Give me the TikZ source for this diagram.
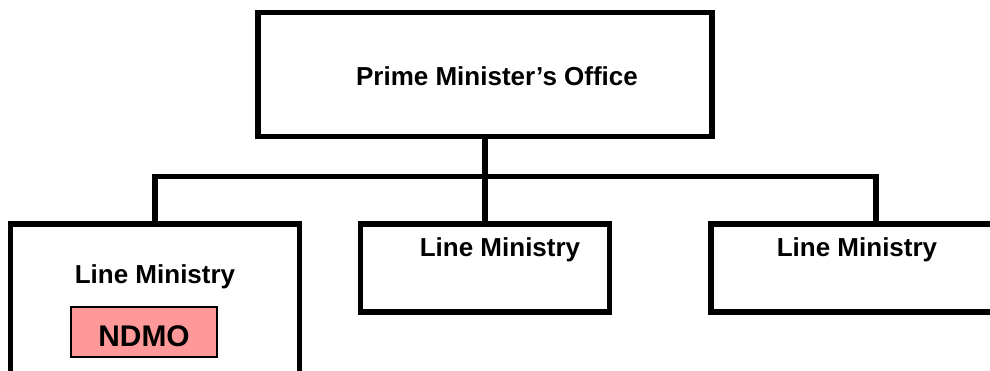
\documentclass[tikz,border=0pt]{standalone}
\usepackage{fontspec}
\setmainfont{Liberation Sans}
\usepackage{tikz}
\usetikzlibrary{positioning,calc}
\definecolor{ndmopink}{HTML}{FF9999}

\begin{document}
\begin{tikzpicture}[x=0.02cm, y=-0.02cm,
    orgbox/.style={rectangle, draw, line width=3.1pt, fill=white, inner sep=0pt},
    orglabel/.style={font=\bfseries\fontsize{14.8}{17}\selectfont, inner sep=0pt},
    link/.style={line width=3.1pt}]
    \clip (0,0) rectangle (990,370);
    \fill[white] (0,0) rectangle (990,370);

    % top of the chart
    \node (pmo) [orgbox, minimum width=9.08cm, minimum height=2.48cm] at (485,74.5) {};
    \node (pmolabel) [orglabel] at (497,76) {Prime Minister's Office};

    % the three ministries
    \node (lft) [orgbox, minimum width=5.79cm, minimum height=3.32cm] at (155,307) {};
    \node (mid) [orgbox, minimum width=4.98cm, minimum height=1.76cm] at (485,268) {};
    \node (rgt) [orgbox, minimum width=5.84cm, minimum height=1.76cm] at (857,268) {};

    \node (lftlabel) [orglabel] at (155,277) {Line Ministry};
    \node (midlabel) [orglabel] at (500,250) {Line Ministry};
    \node (rgtlabel) [orglabel] at (857,250) {Line Ministry};

    \node (ndmo) [rectangle, draw, line width=0.8pt, fill=ndmopink, minimum width=2.92cm, minimum height=1.0cm] at (144,332) {};
    \node (ndmolabel) [font=\bfseries\fontsize{17}{19}\selectfont, inner sep=0pt] at (144,336) {NDMO};

    % connectors
    \coordinate (busl) at (155,176.5);
    \coordinate (busr) at (876,176.5);
    \draw [link] (pmo.south) -- (mid.north);
    \draw [link] (lft.north) -- (busl) -- (busr) -- (busr |- rgt.north);
\end{tikzpicture}
\end{document}
